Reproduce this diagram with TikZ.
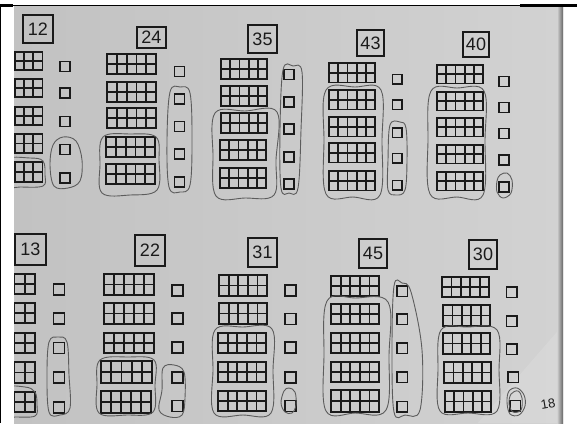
\documentclass[tikz,border=0pt]{standalone}
\usepackage{fontspec}
\setmainfont{Liberation Sans}
\usepackage{tikz}

\definecolor{photo}{RGB}{194,194,194}
\definecolor{photolight}{RGB}{210,210,210}
\definecolor{ink}{RGB}{26,26,26}
\definecolor{pencil}{RGB}{92,92,92}

\tikzset{
  rodline/.style={draw=ink, line width=1.8pt},
  unitline/.style={draw=ink, line width=1.5pt},
  numbox/.style={draw=ink, line width=1.3pt, inner sep=0pt, text=ink, font=\fontsize{18}{18}\selectfont},
  pencil/.style={draw=pencil, line width=0.9pt},
}

% a ten: 2 x 5 cells, left top corner, width, height
\newcommand{\tenrod}[4]{%
  \draw[rodline] (#1,#2) rectangle (#1+#3,#2+#4);
  \draw[rodline] (#1,#2+#4/2) -- (#1+#3,#2+#4/2);
  \foreach \k in {1,2,3,4} {\draw[rodline] (#1+\k*#3/5,#2) -- (#1+\k*#3/5,#2+#4);}
}
% a one: centre, side
\newcommand{\onesq}[3]{\draw[unitline] (#1-#3/2,#2-#3/2) rectangle (#1+#3/2,#2+#3/2);}

\begin{document}
\begin{tikzpicture}[x=1pt,y=-1pt]

\useasboundingbox (0,0) rectangle (577,423);

%Sheet
\fill[white] (0,0) rectangle (577,423);
\shade[left color=photo, right color=photolight] (14,6) rectangle (563,423);
\fill[white, opacity=0.12] (478,423) -- (563,325) -- (563,423) -- cycle;
\shade[left color=photolight, right color=black!60] (557,6) rectangle (563,423);
\draw[line width=1.4pt] (0,5.5) -- (577,5.5);
\draw[line width=2.2pt] (0,5.5) -- (13,5.5); \draw[line width=2.2pt] (520,5.5) -- (577,5.5);
\draw[line width=1.2pt] (0.6,5.5) -- (0.6,423);

\begin{scope}
\clip (14,6) rectangle (563,423);

%First row

%12
\node[numbox, minimum width=30pt, minimum height=28pt] (n12) at (38,29) {12};
\tenrod{-4}{52}{46.5}{18} \tenrod{-4}{79}{46.5}{18} \tenrod{-4}{107}{46.5}{18} \tenrod{-4}{134}{46.5}{19} \tenrod{-4}{162}{46.5}{20}
\onesq{65}{66.5}{10} \onesq{65}{93}{10} \onesq{65}{121.5}{10} \onesq{65}{149.5}{10} \onesq{65}{178}{10}
\draw[pencil] plot[smooth cycle, tension=0.6] coordinates {(5,160) (30,158) (43,161) (45,175) (43,186) (20,187) (5,186)};
\draw[pencil] plot[smooth cycle, tension=0.6] coordinates {(53,145) (63,137) (76,141) (82,160) (80,181) (68,188) (54,186) (50,165)};

%24
\node[numbox, minimum width=29pt, minimum height=21pt] (n24) at (151.5,37.5) {24};
\tenrod{107}{54}{49}{20} \tenrod{107}{82}{49}{20} \tenrod{107}{108}{49}{20} \tenrod{106}{137}{49}{20} \tenrod{106}{164}{49}{20}
\onesq{179.5}{71.5}{10} \onesq{179.5}{99}{10} \onesq{179.5}{126.5}{10} \onesq{179.5}{154}{10} \onesq{179.5}{182}{10}
\draw[pencil] plot[smooth cycle, tension=0.6] coordinates {(103,137) (130,134) (156,137) (159,160) (157,190) (130,195) (102,193) (100,165)};
\draw[pencil] plot[smooth cycle, tension=0.6] coordinates {(170,92) (180,87) (190,93) (192,140) (190,185) (180,192) (169,187) (167,140)};

%35
\node[numbox, minimum width=29pt, minimum height=28pt] (n35) at (262.5,39) {35};
\tenrod{221}{59}{46}{20} \tenrod{221}{86}{46}{20} \tenrod{221}{113}{46}{20} \tenrod{220}{140}{46}{20} \tenrod{220}{168}{46}{20}
\onesq{289}{74.5}{10} \onesq{289}{102}{10} \onesq{289}{129}{10} \onesq{289}{157}{10} \onesq{289}{184}{10}
\draw[pencil] plot[smooth cycle, tension=0.6] coordinates {(215,113) (245,111) (277,112) (276,160) (274,195) (245,198) (216,196) (213,155)};
\draw[pencil] plot[smooth cycle, tension=0.6] coordinates {(283,70) (293,66) (302,72) (301,130) (298,188) (289,193) (281,188) (280,130)};

%43
\node[numbox, minimum width=27pt, minimum height=26pt] (n43) at (370.5,43) {43};
\tenrod{329}{63}{46}{19.5} \tenrod{329}{90}{46}{19.5} \tenrod{329}{117}{46}{19.5} \tenrod{329}{143}{46}{19.5} \tenrod{329}{171}{46}{19.5}
\onesq{397}{79}{9.5} \onesq{397}{104.5}{9.5} \onesq{397}{132.5}{9.5} \onesq{397}{158}{9.5} \onesq{397}{185}{9.5}
\draw[pencil] plot[smooth cycle, tension=0.6] coordinates {(326,90) (355,87) (381,90) (382,140) (380,195) (353,197) (326,194) (324,140)};
\draw[pencil] plot[smooth cycle, tension=0.6] coordinates {(390,125) (400,122) (406,128) (407,160) (405,190) (396,195) (388,190) (388,160)};

%40
\node[numbox, minimum width=26pt, minimum height=25pt] (n40) at (476,44.5) {40};
\tenrod{437}{65}{46}{18.5} \tenrod{437}{92}{46}{18.5} \tenrod{437}{118}{46}{18.5} \tenrod{437}{145}{46}{18.5} \tenrod{437}{172}{46}{18.5}
\onesq{504}{81.5}{10} \onesq{504}{107.5}{10} \onesq{504}{133.5}{10} \onesq{504}{160}{10} \onesq{504}{187}{10}
\draw[pencil] plot[smooth cycle, tension=0.6] coordinates {(431,91) (457,88) (484,91) (485,140) (483,195) (457,197) (430,194) (428,140)};
\draw[pencil] plot[smooth cycle, tension=0.6] coordinates {(500,175) (507,173) (512,180) (511,193) (503,198) (497,192) (497,181)};

%Second row

%13
\node[numbox, minimum width=31pt, minimum height=31pt] (n13) at (30.5,249.5) {13};
\tenrod{-16.5}{274}{51.5}{20} \tenrod{-16.5}{303}{51.5}{20} \tenrod{-16.5}{333}{51.5}{20} \tenrod{-16.5}{362}{51.5}{21} \tenrod{-16.5}{392}{51.5}{20}
\onesq{59}{289.5}{11} \onesq{59}{318.5}{11} \onesq{59}{348}{11} \onesq{59}{377.5}{11} \onesq{59}{407.5}{11}
\draw[pencil] plot[smooth cycle, tension=0.6] coordinates {(5,389) (25,387) (35,392) (37,405) (35,416) (15,417) (5,417)};
\draw[pencil] plot[smooth cycle, tension=0.6] coordinates {(49,342) (58,337) (67,342) (69,375) (70,408) (60,415) (49,412) (47,375)};

%22
\node[numbox, minimum width=30pt, minimum height=31pt] (n22) at (150,250.5) {22};
\tenrod{104}{274}{50}{21} \tenrod{104}{303}{50}{21} \tenrod{104}{333}{50}{20} \tenrod{101}{361}{51}{22} \tenrod{101}{391}{50}{22}
\onesq{177.5}{290.5}{11} \onesq{177.5}{318.5}{11} \onesq{177.5}{347.5}{11} \onesq{177.5}{377.5}{11} \onesq{177.5}{406}{11}
\draw[pencil] plot[smooth cycle, tension=0.6] coordinates {(100,360) (128,357) (154,360) (155,385) (153,412) (127,415) (99,413) (97,385)};
\draw[pencil] plot[smooth cycle, tension=0.6] coordinates {(163,368) (174,365) (184,372) (185,398) (182,415) (170,417) (159,410) (162,390)};

%31
\node[numbox, minimum width=29pt, minimum height=29pt] (n31) at (262.5,252.5) {31};
\tenrod{219}{275}{48}{21} \tenrod{219}{303}{48}{21} \tenrod{218}{333}{48}{20} \tenrod{218}{362}{48}{20} \tenrod{218}{391}{48}{20}
\onesq{290.5}{290.5}{11} \onesq{290.5}{319}{11} \onesq{290.5}{347.5}{11} \onesq{290.5}{377.5}{11} \onesq{290.5}{406}{11}
\draw[pencil] plot[smooth cycle, tension=0.6] coordinates {(215,330) (243,327) (272,329) (273,370) (271,413) (243,415) (214,413) (213,370)};
\draw[pencil] plot[smooth cycle, tension=0.6] coordinates {(284,391) (289,388) (295,392) (296,405) (292,413) (285,412) (281,403)};

%45
\node[numbox, minimum width=28pt, minimum height=29pt] (n45) at (373,253.5) {45};
\tenrod{331}{276}{48}{20} \tenrod{331}{304}{48}{20} \tenrod{331}{333}{48}{20} \tenrod{331}{362}{48}{20} \tenrod{331}{390}{48}{22}
\onesq{402}{291}{10.5} \onesq{402}{319}{10.5} \onesq{402}{348}{10.5} \onesq{402}{377}{10.5} \onesq{402}{406.5}{10.5}
\draw[pencil] plot[smooth cycle, tension=0.6] coordinates {(327,301) (355,298) (388,302) (389,355) (386,410) (355,413) (326,411) (324,355)};
\draw[pencil] plot[smooth cycle, tension=0.6] coordinates {(394,286) (402,283) (411,292) (422,350) (420,410) (405,415) (394,412) (392,350)};

%30
\node[numbox, minimum width=28pt, minimum height=29pt] (n30) at (483,254.5) {30};
\tenrod{442}{277}{47}{20} \tenrod{443}{305}{47}{21} \tenrod{443}{333}{47}{21} \tenrod{444}{362}{47}{21} \tenrod{445}{391}{46}{21}
\onesq{511.5}{292}{10.5} \onesq{511.5}{321}{10.5} \onesq{511.5}{349}{10.5} \onesq{513}{377}{10.5} \onesq{515}{405.5}{10.5}
\draw[pencil] plot[smooth cycle, tension=0.6] coordinates {(441,330) (467,327) (497,330) (499,370) (497,411) (468,413) (440,411) (438,370)};
\draw[pencil] plot[smooth cycle, tension=0.6] coordinates {(509,391) (517,388) (524,395) (525,406) (519,415) (510,414) (507,402)};
\draw[pencil] plot[smooth cycle, tension=0.6] coordinates {(511,394) (518,391) (522,398) (521,410) (513,412) (509,404)};

\node[rotate=10, text=ink, inner sep=1pt, font=\fontsize{13}{13}\selectfont] (page) at (548,404) {18};
\end{scope}

\end{tikzpicture}
\end{document}
